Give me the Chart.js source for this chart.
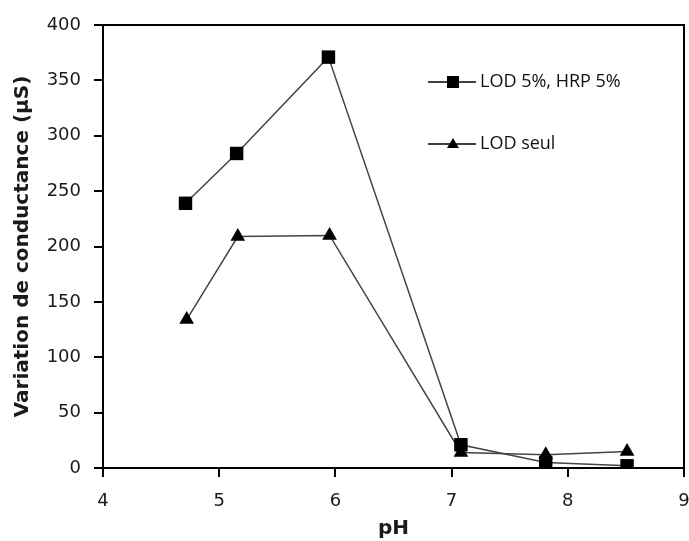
<!DOCTYPE html>
<html><head><meta charset="utf-8">
<script src="https://cdn.jsdelivr.net/npm/chart.js@4.4.0/dist/chart.umd.min.js"></script>
<style>html,body{margin:0;padding:0;background:#fff}#wrap{width:689px;height:541px;position:relative}</style>
</head><body><div id="wrap"><canvas id="c" width="689" height="541"></canvas></div>
<script>
const seriesNames = ["LOD 5%, HRP 5%", "LOD seul"];
const phLodHrp = [4.71, 5.15, 5.94, 7.08, 7.81, 8.51];
const valLodHrp = [239, 284, 371, 21, 5, 2];
const phLodSeul = [4.72, 5.16, 5.95, 7.08, 7.81, 8.51];
const valLodSeul = [134, 209, 210, 14, 12, 15];
const xTicks = [4, 5, 6, 7, 8, 9];
const yTicks = [0, 50, 100, 150, 200, 250, 300, 350, 400];
const xTitle = "pH";
const yTitle = "Variation de conductance (µS)";

const toPts = (xs, ys) => xs.map((x, i) => ({x: x, y: ys[i]}));

const boxPlugin = {
  id: 'box',
  afterDraw(chart) {
    const ctx = chart.ctx, a = chart.chartArea;
    ctx.save();
    ctx.strokeStyle = '#000'; ctx.lineWidth = 2;
    ctx.strokeRect(a.left, a.top, a.right - a.left, a.bottom - a.top);
    const items = [
      {label: seriesNames[0], style: 'rect', y: 82},
      {label: seriesNames[1], style: 'triangle', y: 144}
    ];
    items.forEach(it => {
      ctx.strokeStyle = '#000'; ctx.lineWidth = 1.5;
      ctx.beginPath(); ctx.moveTo(428, it.y); ctx.lineTo(476, it.y); ctx.stroke();
      ctx.fillStyle = '#000';
      if (it.style === 'rect') {
        ctx.fillRect(447, it.y - 6, 12, 12);
      } else {
        ctx.beginPath(); ctx.moveTo(453, it.y - 6); ctx.lineTo(459, it.y + 4); ctx.lineTo(447, it.y + 4); ctx.closePath(); ctx.fill();
      }
      ctx.font = '18px "Open Sans"';
      ctx.fillStyle = '#111'; ctx.textAlign = 'left'; ctx.textBaseline = 'middle';
      ctx.fillText(it.label, 480, it.y);
    });
    ctx.restore();
  }
};

new Chart(document.getElementById('c'), {
  type: 'scatter',
  data: {
    datasets: [
      {label: seriesNames[0], data: toPts(phLodHrp, valLodHrp), showLine: true,
       borderColor: '#444', borderWidth: 1.5, pointStyle: 'rect', pointRadius: 9.5,
       pointBackgroundColor: '#000', pointBorderColor: '#000', pointBorderWidth: 0},
      {label: seriesNames[1], data: toPts(phLodSeul, valLodSeul), showLine: true,
       borderColor: '#444', borderWidth: 1.5, pointStyle: 'triangle', pointRadius: 8.5,
       pointBackgroundColor: '#000', pointBorderColor: '#000', pointBorderWidth: 0}
    ]
  },
  options: {
    responsive: false, animation: false,
    layout: {autoPadding: false, padding: {top: 25, right: 5, left: 0, bottom: 0}},
    plugins: {legend: {display: false}, tooltip: {enabled: false}},
    scales: {
      x: {
        type: 'linear', min: 4, max: 9,
        afterBuildTicks: s => { s.ticks = xTicks.map(v => ({value: v})); },
        afterFit: s => { s.height = 73; s.paddingLeft = 0; s.paddingRight = 0; },
        grid: {drawOnChartArea: false, tickLength: 9, color: '#000', lineWidth: 2},
        border: {color: '#000', width: 2},
        ticks: {font: {family: 'DejaVu Sans', size: 18}, color: '#1a1a1a', padding: 14, maxRotation: 0},
        title: {display: true, text: xTitle, font: {family: 'DejaVu Sans', size: 20, weight: 'bold'}, color: '#1a1a1a', padding: {top: 0, bottom: 0}}
      },
      y: {
        type: 'linear', min: 0, max: 400,
        afterBuildTicks: s => { s.ticks = yTicks.map(v => ({value: v})); },
        afterFit: s => { s.width = 103; s.paddingTop = 0; s.paddingBottom = 0; },
        grid: {drawOnChartArea: false, tickLength: 9, color: '#000', lineWidth: 2},
        border: {color: '#000', width: 2},
        ticks: {font: {family: 'DejaVu Sans', size: 18}, color: '#1a1a1a', padding: 13},
        title: {display: true, text: yTitle, font: {family: 'DejaVu Sans', size: 20, weight: 'bold'}, color: '#1a1a1a', padding: {top: 11, bottom: 0}}
      }
    }
  },
  plugins: [boxPlugin]
});
</script></body></html>
